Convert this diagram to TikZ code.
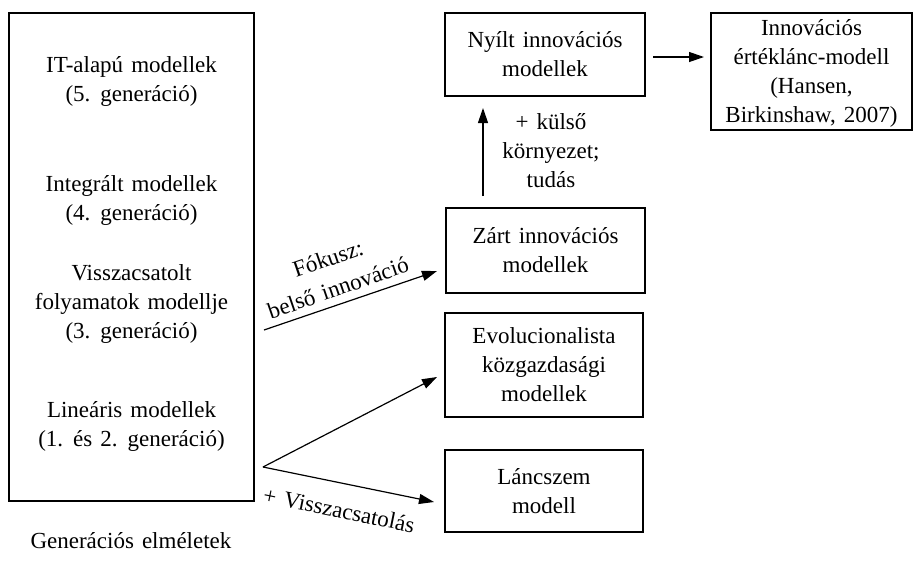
\documentclass[tikz,border=0pt]{standalone}
\usepackage{fontspec}
\setmainfont{Liberation Serif}[WordSpace=1.4]
\usetikzlibrary{arrows.meta}
\begin{document}
\begin{tikzpicture}[x=1pt,y=-1pt,
  box/.style={draw,line width=1.2pt,inner sep=0pt},
  txt/.style={align=center,font=\fontsize{23}{29}\selectfont,inner sep=0pt},
  arr/.style={line width=1.2pt,-{Triangle[length=15pt,width=10pt]}}]
\useasboundingbox (0,0) rectangle (919,566);
% left box
\node[box,minimum width=245pt,minimum height=488pt] (gen) at (131.5,257) {};
\node[txt] (it) at (131.5,81) {IT-alapú modellek\\(5. generáció)};
\node[txt] (integ) at (131.5,200) {Integrált modellek\\(4. generáció)};
\node[txt] (vissza) at (131.5,304) {Visszacsatolt\\folyamatok modellje\\(3. generáció)};
\node[txt] (lin) at (131.5,426) {Lineáris modellek\\(1. és 2. generáció)};
\node[txt] (cap) at (131,541) {Generációs elméletek};
% right boxes
\node[box,txt,minimum width=200pt,minimum height=83pt] (nyilt) at (545,54.5) {Nyílt innovációs\\modellek};
\node[box,minimum width=201pt,minimum height=117pt] (innov) at (811.5,71.5) {};
\node[txt] (innovt) at (811.5,73) {Innovációs\\értéklánc-modell\\(Hansen,\\Birkinshaw, 2007)};
\node[box,txt,minimum width=199pt,minimum height=85pt] (zart) at (545.5,250.5) {Zárt innovációs\\modellek};
\node[box,txt,minimum width=198pt,minimum height=104pt] (evol) at (544,365) {Evolucionalista\\közgazdasági\\modellek};
\node[box,txt,minimum width=198pt,minimum height=82pt] (lanc) at (544,491) {Láncszem\\modell};
% connector end points
\coordinate (a1) at (653,57);
\coordinate (a2) at (704,57);
\coordinate (v1) at (483,196);
\coordinate (v2) at (483,108);
\coordinate (f1) at (264,330);
\coordinate (f2) at (437,271);
\coordinate (br) at (263,467);
\coordinate (e2) at (437,377);
\coordinate (l2) at (434,502);
% connectors
\draw[arr] (a1) -- (a2);
\draw[arr] (v1) -- (v2);
\draw[arr] (f1) -- (f2);
\draw[arr] (br) -- (e2);
\draw[arr] (br) -- (l2);
% labels
\node[txt] (kulso) at (551,151) {+ külső\\környezet;\\tudás};
\node[txt,rotate=19,font=\fontsize{23}{31}\selectfont] (fok) at (333,273) {Fókusz:\\belső innováció};
\node[txt,rotate=-11.5] (vcs) at (339,510) {+ Visszacsatolás};
\end{tikzpicture}
\end{document}
